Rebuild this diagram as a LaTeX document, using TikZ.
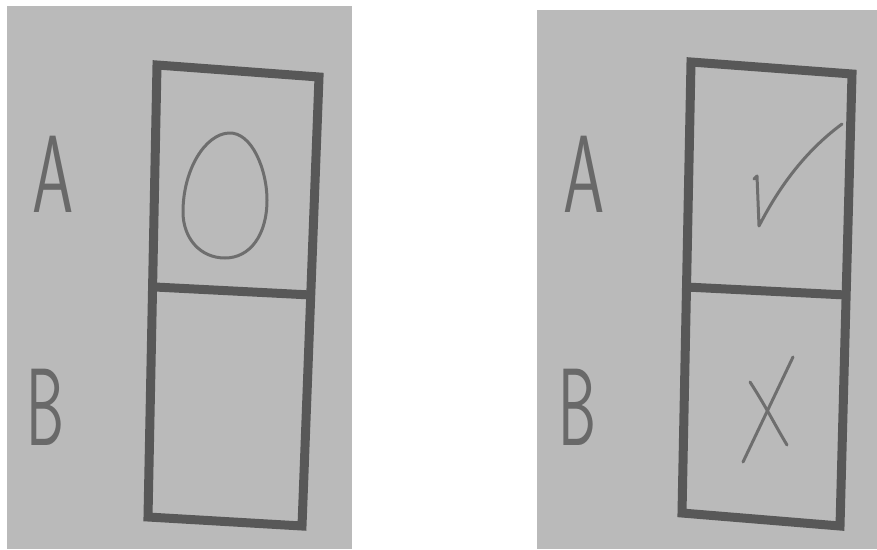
\documentclass[tikz,border=0pt]{standalone}
\usepackage{graphicx}
\definecolor{cardgray}{RGB}{186,186,186}
\definecolor{framegray}{RGB}{88,88,88}
\definecolor{inkgray}{RGB}{110,110,110}
\newcommand{\slimletter}[2]{\scalebox{#1}[1]{#2}}

\begin{document}
\begin{tikzpicture}[x=1pt,y=-1pt]
        \tikzset{card/.style={fill=cardgray, draw=none},
                 frame line/.style={draw=framegray, line width=9pt, line join=miter},
                 pen mark/.style={draw=inkgray, line width=3pt, line cap=round, line join=round},
                 letter/.style={text=framegray!90!white, font=\sffamily\fontsize{110}{110}\selectfont,
                                inner sep=0pt, anchor=base}}

        \useasboundingbox (0,0) rectangle (877,549);

        % left card
        \fill[card] (7,6) rectangle (352,549);
        \draw[frame line]
            (157,65) -- (319,77) -- (302,526) -- (148,517) -- cycle;
        \draw[frame line] (155,287) -- (311,295);

        \draw[pen mark]
            (229,133)
            .. controls (252,132) and (267,170) .. (267,200)
            .. controls (267,235) and (250,258) .. (225,258)
            .. controls (200,258) and (183,238) .. (183,212)
            .. controls (183,170) and (205,134) .. (229,133)
            -- cycle;

        \node[letter] (leftA) at (53,212) {\slimletter{0.6}{A}};
        \node[letter] (leftB) at (45,445) {\slimletter{0.55}{B}};

        % right card
        \fill[card] (537,10) rectangle (877,549);
        \draw[frame line]
            (691,62) -- (852,74) -- (840,526) -- (682,513) -- cycle;
        \draw[frame line] (686,287) -- (846,295);

        \draw[pen mark]
            (754,179) -- (757,176) -- (759,226)
            .. controls (775,195) and (800,155) .. (842,124);

        \draw[pen mark] (743,462) -- (793,357);
        \draw[pen mark] (750,382) .. controls (765,405) and (775,425) .. (787,445);

        \node[letter] (rightA) at (584,212) {\slimletter{0.6}{A}};
        \node[letter] (rightB) at (577,445) {\slimletter{0.55}{B}};
    \end{tikzpicture}
\end{document}
